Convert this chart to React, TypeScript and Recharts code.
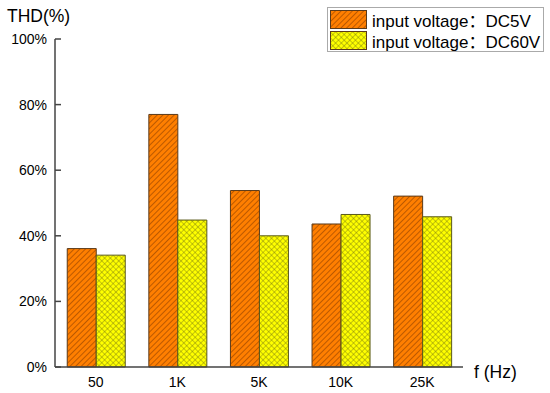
import React from 'react'
import { Bar, BarChart, XAxis, YAxis } from 'recharts'

const freqs = ['50', '1K', '5K', '10K', '25K']
const dc5v = [36.1, 77.0, 53.8, 43.6, 52.1]
const dc60v = [34.1, 44.8, 40.0, 46.5, 45.8]
const yTicks = [0, 20, 40, 60, 80, 100]

const font = '"Liberation Sans", Arial, "Noto Sans CJK SC", sans-serif'

const data = freqs.map((f, i) => ({ f, dc5v: dc5v[i], dc60v: dc60v[i] }))

function Swatch(props: { fill: string }) {
  return (
    <svg width={37} height={19} style={{ display: 'block' }}>
      <rect x={0.5} y={0.5} width={36} height={18} fill={props.fill} stroke="#5a3a1a" />
    </svg>
  )
}

function LegendBox() {
  const rows = [
    { fill: 'url(#hatchOrange)', label: 'input voltage：DC5V' },
    { fill: 'url(#hatchYellow)', label: 'input voltage：DC60V' },
  ]
  return (
    <div
      style={{
        position: 'absolute',
        left: 327,
        top: 7,
        width: 215,
        height: 43,
        border: '1px solid #aaa',
        background: '#fff',
        fontFamily: font,
        fontSize: 17,
        color: '#000',
      }}
    >
      {rows.map((r) => (
        <div
          key={r.label}
          style={{ display: 'flex', alignItems: 'center', height: 20, marginLeft: 2, marginTop: 1 }}
        >
          <Swatch fill={r.fill} />
          <span style={{ marginLeft: 5, whiteSpace: 'pre' }}>{r.label}</span>
        </div>
      ))}
    </div>
  )
}

export default function App() {
  return (
    <div style={{ position: 'absolute', left: 0, top: 0, width: 550, height: 393, background: '#fff' }}>
      <BarChart
        width={550}
        height={393}
        data={data}
        margin={{ top: 39, right: 87, bottom: 0, left: 0 }}
        barCategoryGap="15%"
        barGap={0}
      >
        <defs>
          <pattern id="hatchOrange" patternUnits="userSpaceOnUse" width={4} height={4} patternTransform="rotate(45)">
            <rect width={4} height={4} fill="#ff7f00" />
            <line x1={0} y1={0} x2={0} y2={4} stroke="#7a3200" strokeWidth={1} />
          </pattern>
          <pattern id="hatchYellow" patternUnits="userSpaceOnUse" width={4} height={4} patternTransform="rotate(45)">
            <rect width={4} height={4} fill="#ffff00" />
            <line x1={0} y1={0} x2={0} y2={4} stroke="#6e6e10" strokeWidth={0.8} />
            <line x1={0} y1={0} x2={4} y2={0} stroke="#6e6e10" strokeWidth={0.8} />
          </pattern>
        </defs>
        <XAxis
          dataKey="f"
          height={26}
          tickLine={false}
          axisLine={{ stroke: '#444', strokeWidth: 1.5 }}
          tick={{ fill: '#000', fontSize: 14, fontFamily: font }}
          tickMargin={4}
        />
        <YAxis
          width={55}
          domain={[0, 100]}
          ticks={yTicks}
          interval={0}
          tickFormatter={(v) => `${v}%`}
          tickSize={-6}
          tickMargin={14}
          tickLine={{ stroke: '#444', strokeWidth: 1.5 }}
          axisLine={{ stroke: '#444', strokeWidth: 1.5 }}
          tick={{ fill: '#000', fontSize: 14, fontFamily: font }}
        />
        <Bar dataKey="dc5v" fill="url(#hatchOrange)" stroke="#5a3a1a" strokeWidth={1} isAnimationActive={false} />
        <Bar dataKey="dc60v" fill="url(#hatchYellow)" stroke="#5a5a1a" strokeWidth={1} isAnimationActive={false} />
        <text x={7} y={22} fontSize={17.5} fontFamily={font} fill="#000">
          THD(%)
        </text>
        <text x={474} y={378} fontSize={17.5} fontFamily={font} fill="#000">
          f (Hz)
        </text>
      </BarChart>
      <LegendBox />
    </div>
  )
}
